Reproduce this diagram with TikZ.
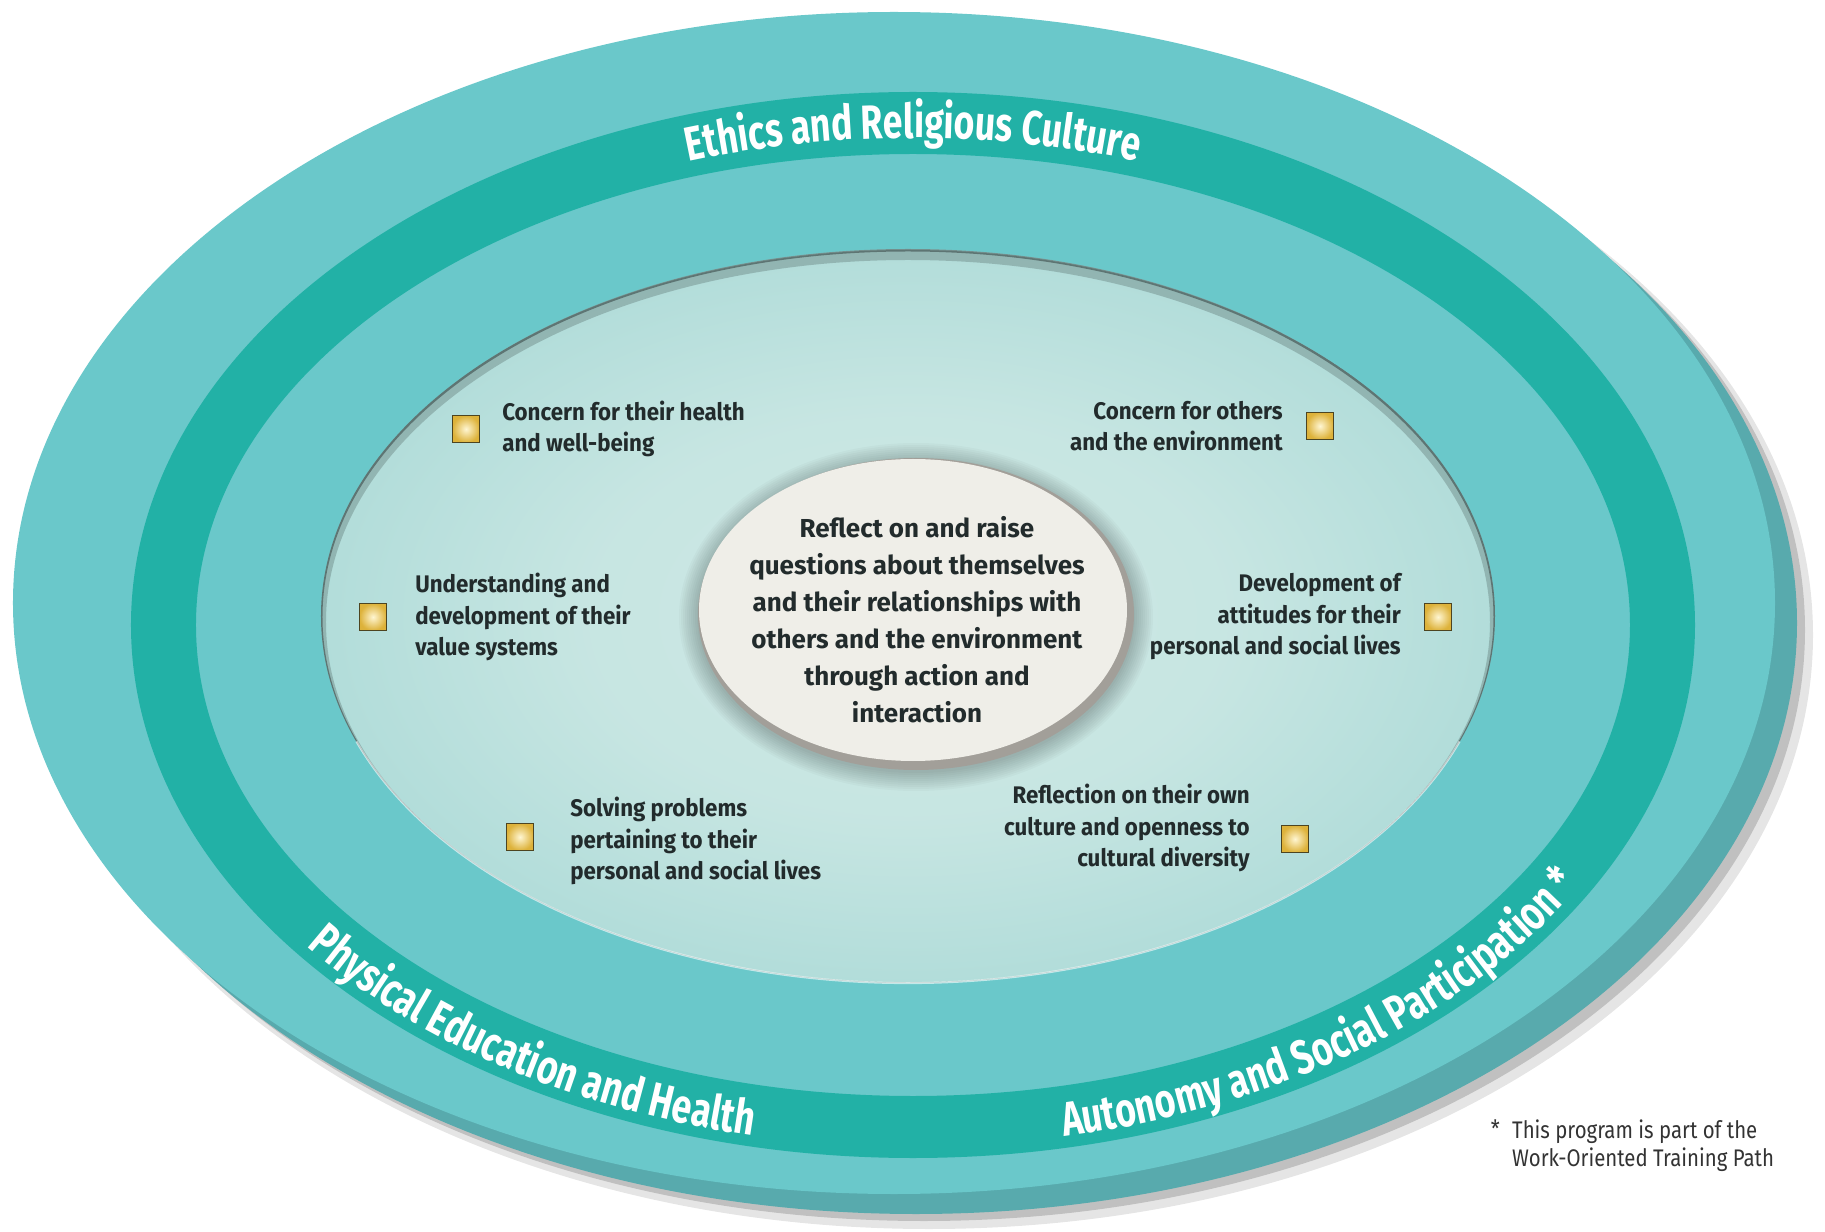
\documentclass[tikz,border=0pt]{standalone}
\usepackage{fontspec}
\setmainfont{Fira Sans}
\newfontfamily\bandfont{Fira Sans}[FakeStretch=0.74]
\newfontfamily\goalfont{Fira Sans}[FakeStretch=0.93]
\newfontfamily\notefont{Fira Sans}[FakeStretch=0.85]
\usetikzlibrary{positioning,decorations.text,shadings}

\definecolor{faceteal}{HTML}{6AC8CA}
\definecolor{bandteal}{HTML}{22B1A6}
\definecolor{rimteal}{HTML}{58AAAD}
\definecolor{coretext}{HTML}{222B2C}
\definecolor{notetext}{HTML}{333333}
\definecolor{corefill}{HTML}{EFEEE8}
\definecolor{corerim}{HTML}{A29F99}
\definecolor{mistin}{HTML}{CFE9E5}
\definecolor{mistout}{HTML}{96D1CF}
\definecolor{boxin}{HTML}{FFF6D2}
\definecolor{boxout}{HTML}{DDB23A}
\definecolor{boxline}{HTML}{4D4420}

\pgfdeclareradialshading{mist}{\pgfpoint{0bp}{0bp}}{color(0bp)=(mistin); color(14bp)=(mistin!85!mistout); color(40bp)=(mistout); color(50bp)=(mistout)}

\tikzset{
  goal/.style={draw=boxline, line width=1.2pt, minimum size=27pt, inner sep=0pt, inner color=boxin, outer color=boxout},
  goaltext/.style={font=\goalfont\bfseries\fontsize{24}{31.5}\selectfont, text=coretext, inner sep=0pt},
  band/.style={decorate, decoration={text along path, text align=center, text color=white}}
}

\begin{document}
\begin{tikzpicture}[x=1pt,y=1pt]
    \useasboundingbox (-913,-606) rectangle (912,625);
    \fill[black, opacity=.10] (16,-10) ellipse [x radius=884pt, y radius=594pt];
    \fill[black, opacity=.16] (11,-5) ellipse [x radius=881pt, y radius=591pt];
    \fill[rimteal] (3,2) ellipse [x radius=881pt, y radius=591pt];
    \fill[faceteal] (-19,22) ellipse [x radius=881pt, y radius=591pt];
    \fill[bandteal, even odd rule] (0,0) ellipse [x radius=782pt, y radius=533pt]
        (0,0) ellipse [x radius=717pt, y radius=471pt];

    \shade[shading=mist] (-5,9) ellipse [x radius=587pt, y radius=367pt];
    \begin{scope}
        \clip (-5,9) ellipse [x radius=587pt, y radius=367pt];
        \draw[black, opacity=.18, line width=10pt] (-5,3) ellipse [x radius=587pt, y radius=367pt];
        \draw[black, opacity=.35, line width=3pt] (-5,8) ellipse [x radius=587pt, y radius=367pt];
    \end{scope}
    \draw[white, opacity=.6, line width=2pt] (-5,9) ++(200:587pt and 367pt)
        arc [start angle=200, end angle=340, x radius=587pt, y radius=367pt];

    \foreach \i in {0,...,9}
        \fill[black, opacity=.025] (3,8) ellipse [x radius={219pt+2pt*\i}, y radius={156pt+2pt*\i}];
    \fill[corerim] (3,11) ellipse [x radius=218pt, y radius=156pt];
    \fill[corefill] (0,15) ellipse [x radius=214pt, y radius=151pt];
    \node (core) [font=\bfseries\fontsize{26}{37}\selectfont, text=coretext, align=center, inner sep=0pt] at (4,5)
        {Reflect on and raise\\questions about themselves\\and their relationships with\\others and the environment\\through action and\\interaction};

    \node[goal] (b1) at (-447,196) {};
    \node[goal] (b2) at (407,199) {};
    \node[goal] (b3) at (-540,8) {};
    \node[goal] (b4) at (525,8) {};
    \node[goal] (b5) at (-393,-212) {};
    \node[goal] (b6) at (382,-214) {};
    \node[goaltext, align=left, right=22pt of b1] (t1) {Concern for their health\\and well-being};
    \node[goaltext, align=right, left=23pt of b2] (t2) {Concern for others\\and the environment};
    \node[goaltext, align=left, right=28pt of b3] (t3) {Understanding and\\development of their\\value systems};
    \node[goaltext, align=right, left=23pt of b4] (t4) {Development of\\attitudes for their\\personal and social lives};
    \node[goaltext, align=left, right=36pt of b5, yshift=-4pt] (t5) {Solving problems\\pertaining to their\\personal and social lives};
    \node[goaltext, align=right, left=31pt of b6, yshift=11pt] (t6) {Reflection on their own\\culture and openness to\\cultural diversity};

    \path[band, decoration={text={|\bandfont\bfseries\fontsize{48}{48}\selectfont|Ethics and Religious Culture}}]
        (0,0) ++(108:735pt and 487pt) arc [start angle=108, end angle=72, x radius=735pt, y radius=487pt];
    \path[band, decoration={text={|\bandfont\bfseries\fontsize{48}{48}\selectfont|Physical Education and Health}}]
        (0,0) ++(218:770pt and 522pt) arc [start angle=218, end angle=258, x radius=770pt, y radius=522pt];
    \path[band, decoration={text={|\bandfont\bfseries\fontsize{48}{48}\selectfont|Autonomy and Social Participation *}}]
        (0,0) ++(279:770pt and 522pt) arc [start angle=279, end angle=333, x radius=770pt, y radius=522pt];

    \node (note) [anchor=north west, align=left, inner sep=0pt, text=notetext, font=\notefont\fontsize{24}{28}\selectfont] at (599,-495)
        {This program is part of the\\Work-Oriented Training Path};
    \node (star) [anchor=north east, inner sep=0pt, text=notetext, font=\notefont\fontsize{24}{28}\selectfont] at ([xshift=-12pt]note.north west) {*};
\end{tikzpicture}
\end{document}
